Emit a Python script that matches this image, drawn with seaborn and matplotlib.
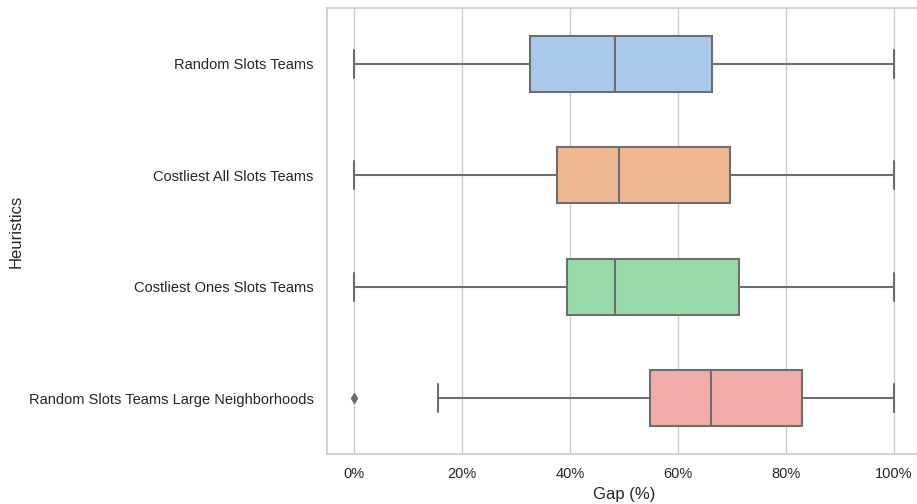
import matplotlib
matplotlib.use("Agg")
import matplotlib.pyplot as plt
import matplotlib.ticker as mtick
import seaborn as sns
import pandas as pd

# values picked so the box stats (quartiles, whiskers, outlier) match the figure
heuristics = [
    "Random Slots Teams",
    "Costliest All Slots Teams",
    "Costliest Ones Slots Teams",
    "Random Slots Teams Large Neighborhoods",
]
gap_random = [0, 10, 32.6, 40, 48.3, 58, 66.3, 85, 100]
gap_costliest_all = [0, 15, 37.6, 43, 49.0, 60, 69.6, 85, 100]
gap_costliest_ones = [0, 15, 39.4, 44, 48.3, 60, 71.3, 85, 100]
gap_random_large = [0, 15.6, 54.8, 60, 66.1, 75, 83.0, 90, 100]

gaps = [gap_random, gap_costliest_all, gap_costliest_ones, gap_random_large]
df = pd.DataFrame({
    "Heuristics": [h for h, g in zip(heuristics, gaps) for _ in g],
    "Gap (%)": [v for g in gaps for v in g],
})

sns.set_theme(style="whitegrid")
plt.rcParams["font.family"] = ["Liberation Sans", "DejaVu Sans"]
plt.rcParams["xtick.labelsize"] = 10.5
plt.rcParams["ytick.labelsize"] = 10.5
plt.rcParams["axes.labelsize"] = 12

grey = "#6e6e6e"
fig = plt.figure(figsize=(9.17, 5.04), dpi=100)
ax = fig.add_axes([0.3566, 0.0992, 0.6478, 0.885])
sns.boxplot(data=df, x="Gap (%)", y="Heuristics", hue="Heuristics",
            order=heuristics, palette="pastel", width=0.5, ax=ax,
            linecolor=grey, linewidth=1.5, legend=False,
            flierprops={"marker": "d", "markerfacecolor": grey,
                        "markeredgecolor": grey, "markersize": 5})
ax.xaxis.set_major_formatter(mtick.PercentFormatter(decimals=0))
ax.set_xlim(-5, 105)

fig.savefig("out.png", dpi=100)
